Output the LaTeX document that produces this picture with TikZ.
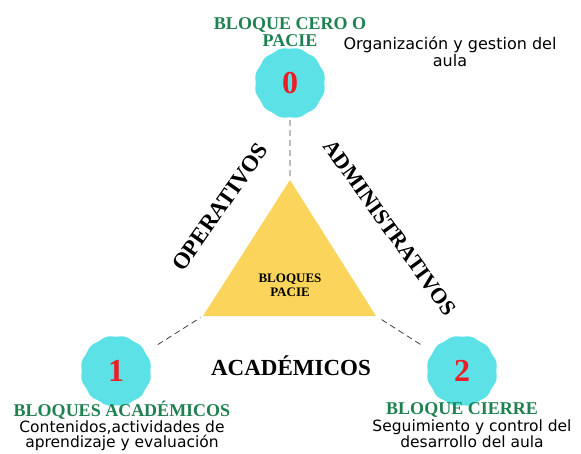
\documentclass[tikz,border=0pt]{standalone}
\usepackage{fontspec}
\setmainfont{Liberation Serif}
\newfontfamily\verdfont{DejaVu Sans}
\usetikzlibrary{shapes}
\definecolor{blqcyan}{HTML}{5CE1E6}
\definecolor{blqyellow}{HTML}{FAD45B}
\definecolor{blqgreen}{HTML}{1F8050}
\definecolor{blqred}{HTML}{EE1C25}
\tikzstyle{num} = [star, star points=12, star point ratio=0.93, fill=blqcyan,
    minimum size=68pt, inner sep=0pt, rounded corners=5pt, text=blqred,
    font=\bfseries\fontsize{32}{32}\selectfont]
\tikzstyle{title} = [text=blqgreen, align=center, inner sep=0pt,
    font=\bfseries\fontsize{18}{17}\selectfont]
\tikzstyle{desc} = [align=center, inner sep=0pt,
    font=\verdfont\fontsize{15.5}{15}\selectfont]
\tikzstyle{side} = [inner sep=0pt, font=\bfseries\fontsize{23}{23}\selectfont]
\tikzstyle{link} = [draw=black!75, thick, dash pattern=on 6pt off 4pt]

\begin{document}
\begin{tikzpicture}[x=1pt,y=-1pt]
    \useasboundingbox (0,0) rectangle (581,453);

    %%% center triangle
    \coordinate (top) at (290,180);
    \coordinate (left) at (203,316);
    \coordinate (right) at (376,316);
    \path[fill=blqyellow] (top) -- (left) -- (right) -- cycle;
    \path (290,285) node (tri) [align=center, inner sep=0pt,
        font=\bfseries\fontsize{13}{14}\selectfont] {BLOQUES\\PACIE};

    %%% blocks
    \node (zero)[num] at (290,83) {0};
    \node (one)[num] at (116,371) {1};
    \node (two)[num] at (462,371) {2};

    \path (zero.north)+(0,-17) node (zeroT)[title] {BLOQUE CERO O\\PACIE};
    \path (zero.north)+(160,3) node (zeroD)[desc, font=\verdfont\fontsize{16}{14}\selectfont] {Organización y gestion del\\aula};
    \path (one.south)+(6,5) node (oneT)[title] {BLOQUES ACADÉMICOS};
    \path (oneT.south)+(0,16) node (oneD)[desc] {Contenidos,actividades de\\aprendizaje y evaluación};
    \path (two.south)+(0,5) node (twoT)[title] {BLOQUE CIERRE};
    \path (twoT.south)+(10,16) node (twoD)[desc] {Seguimiento y control del\\desarrollo del aula};

    %%% side labels
    \path (220,207) node (oper)[side, rotate=55] {OPERATIVOS};
    \path (390,228) node (admin)[side, font=\bfseries\fontsize{22}{22}\selectfont, rotate=-54] {ADMINISTRATIVOS};
    \path (291,366) node (acad)[side] {ACADÉMICOS};

    %%% dashed links
    \path [link, shorten <=3pt] (zero) -- (top);
    \path [link, shorten <=15pt, shorten >=3pt] (one) -- (left);
    \path [link, shorten <=15pt, shorten >=3pt] (two) -- (right);
\end{tikzpicture}
\end{document}
